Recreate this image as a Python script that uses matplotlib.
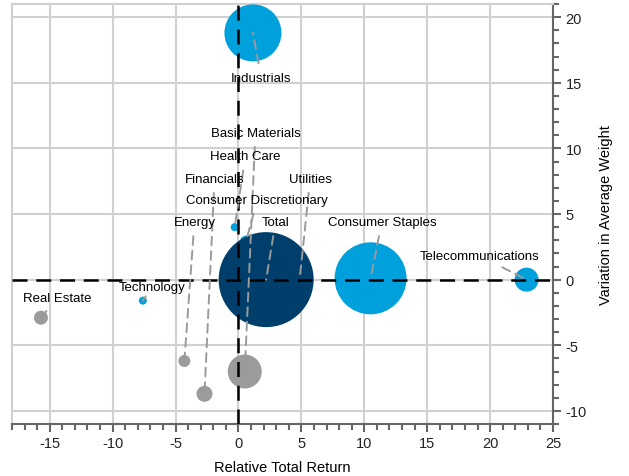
import matplotlib
matplotlib.use("Agg")
import matplotlib.pyplot as plt
from matplotlib.ticker import MultipleLocator

plt.rcParams['font.family'] = ['Liberation Sans', 'DejaVu Sans']
plt.rcParams['axes.unicode_minus'] = False

# data
sectors = ['Industrials', 'Basic Materials', 'Health Care', 'Financials', 'Utilities',
           'Consumer Discretionary', 'Energy', 'Total', 'Consumer Staples',
           'Telecommunications', 'Technology', 'Real Estate']
rel_return = [1.15, 0.5, -0.3, -2.7, 4.9, 0.6, -4.3, 2.2, 10.5, 22.9, -7.6, -15.7]
weight_var = [18.8, -7.0, 4.0, -8.7, 0.35, 2.9, -6.2, 0.0, 0.1, 0.0, -1.6, -2.9]
bubble_size = [28.5, 17, 4, 8, 6, 6, 6, 47.5, 36, 12, 4, 7]  # radius-like measure
colors = ['#00a0dc', '#9b9b9b', '#00a0dc', '#9b9b9b', '#00a0dc', '#00a0dc',
          '#9b9b9b', '#003f6b', '#00a0dc', '#00a0dc', '#00a0dc', '#9b9b9b']
label_x = [1.8, 1.35, 0.55, -1.9, 5.7, 1.5, -3.5, 2.95, 11.4, 19.2, -6.9, -14.4]
label_y = [15.4, 11.2, 9.4, 7.7, 7.7, 6.1, 4.4, 4.4, 4.4, 1.8, -0.6, -1.4]

fig = plt.figure(figsize=(6.29, 4.77), dpi=100)
ax = fig.add_axes([12 / 629, 52 / 477, 541 / 629, 420 / 477])

ax.set_xlim(-18, 25)
ax.set_ylim(-11, 21)

sizes = [(1.44 * r) ** 2 for r in bubble_size]
ax.scatter(rel_return, weight_var, s=sizes, c=colors, linewidths=0, zorder=3)

ax.axhline(0, color='black', lw=1.8, ls=(0, (6, 3.5)), zorder=4)
ax.axvline(0, color='black', lw=1.8, ls=(0, (6, 3.5)), zorder=4)

for name, px, py, lx, ly in zip(sectors, rel_return, weight_var, label_x, label_y):
    ax.annotate(name, xy=(px, py), xytext=(lx, ly), textcoords='data',
                ha='center', va='center', fontsize=9.5, zorder=5,
                arrowprops=dict(arrowstyle='-', color='#9a9a9a', lw=1.4,
                                linestyle=(0, (4.5, 3)), shrinkA=4, shrinkB=0))

ax.xaxis.set_major_locator(MultipleLocator(5))
ax.xaxis.set_minor_locator(MultipleLocator(1))
ax.yaxis.set_major_locator(MultipleLocator(5))
ax.yaxis.set_minor_locator(MultipleLocator(1))
ax.yaxis.tick_right()
ax.yaxis.set_label_position('right')
ax.grid(True, which='major', color='#d0d0d0', lw=1.5, zorder=0)
ax.set_axisbelow(True)

for s in ['left', 'top']:
    ax.spines[s].set_color('#d0d0d0')
    ax.spines[s].set_linewidth(1.5)
for s in ['right', 'bottom']:
    ax.spines[s].set_color('#666666')
    ax.spines[s].set_linewidth(1.5)

ax.tick_params(which='major', length=6, width=1.5, color='#666666', labelsize=10.5,
               labelcolor='#222222', pad=3)
ax.tick_params(which='minor', length=4, width=1.5, color='#666666')
ax.tick_params(axis='x', which='both', top=False)
ax.tick_params(axis='y', which='both', left=False)

ax.set_xlabel('Relative Total Return', fontsize=10.5, labelpad=7)
ax.set_ylabel('Variation in Average Weight', fontsize=10.5, labelpad=9)

fig.savefig('out.png', dpi=100)
